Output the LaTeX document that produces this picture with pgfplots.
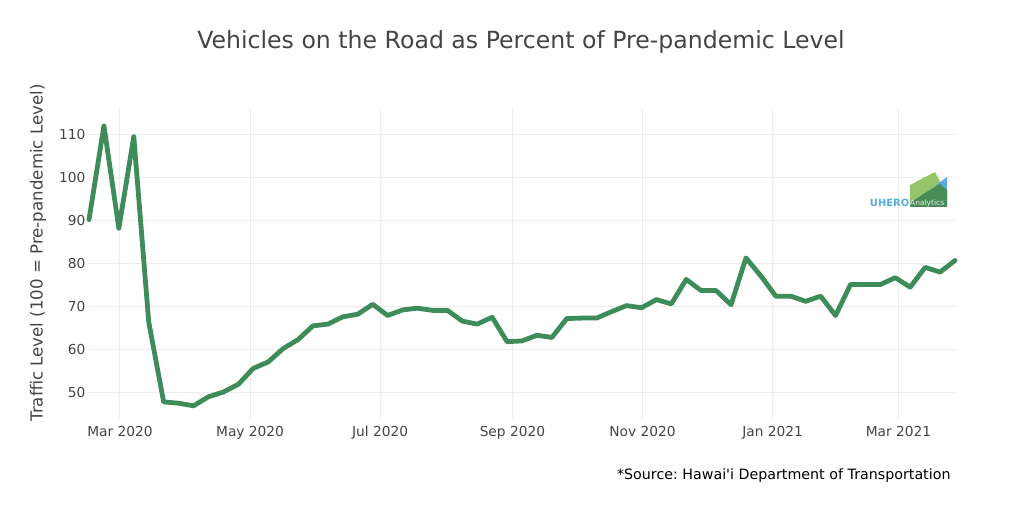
\documentclass[border=0pt]{standalone}
\usepackage{pgfplots}
\usepackage{pgfplotstable}
\pgfplotsset{compat=1.18}
\usepackage{fontspec}
\setmainfont{DejaVu Sans}
\newfontfamily\srcfont{DejaVu Sans}
\frenchspacing
\definecolor{linegreen}{RGB}{61,140,90}
\definecolor{txt}{RGB}{68,68,68}
\definecolor{gridc}{RGB}{236,236,236}
\definecolor{lgreen}{RGB}{150,196,104}
\definecolor{dgreen}{RGB}{72,140,88}
\definecolor{lblue}{RGB}{86,172,222}
\pgfplotstableread{
val
90.1
111.9
88.1
109.4
66.3
47.7
47.4
46.8
48.9
50.0
51.8
55.5
57.0
60.1
62.2
65.4
65.8
67.5
68.1
70.4
67.8
69.1
69.5
69.0
69.0
66.5
65.8
67.4
61.7
61.9
63.2
62.7
67.1
67.2
67.2
68.7
70.1
69.6
71.5
70.5
76.2
73.6
73.6
70.3
81.2
77.0
72.3
72.3
71.1
72.3
67.8
75.0
75.0
75.0
76.6
74.4
79.0
77.9
80.6
}\traffic
\begin{document}
\begin{tikzpicture}[x=1bp,y=1bp]
\path[use as bounding box] (0,0) rectangle (1034,516);
\begin{axis}[
  at={(89bp,96bp)}, anchor=south west,
  scale only axis, width=866bp, height=313bp,
  xmin=0, xmax=58, ymin=43.5, ymax=116.3,
  axis line style={draw=none},
  major tick length=0pt,
  grid=major, grid style={color=gridc, line width=0.9bp},
  xtick={2.071,10.786,19.5,28.357,37.071,45.786,54.214},
  xticklabels={Mar 2020,May 2020,Jul 2020,Sep 2020,Nov 2020,Jan 2021,Mar 2021},
  ytick={50,60,70,80,90,100,110},
  ticklabel style={font=\fontsize{13.8}{16}\selectfont, text=txt},
  /pgf/number format/assume math mode=true,
  xticklabel style={yshift=-3bp},
  clip=false,
]
\addplot[linegreen, line width=4.8bp, line join=round, line cap=round] table[x expr=\coordindex, y=val] {\traffic};
\end{axis}
% title
\node[text=txt, font=\fontsize{23.7}{28}\selectfont] at (521,474) {Vehicles on the Road as Percent of Pre-pandemic Level};
% y label
\node[text=txt, rotate=90, font=\fontsize{16.7}{20}\selectfont] at (38,263) {Traffic Level (100 = Pre-pandemic Level)};
% source
\node[anchor=east, text=black, font=\srcfont\fontsize{14.3}{17}\selectfont] at (954,40) {*Source: Hawai'i Department of Transportation};
% logo
\fill[lgreen] (910,309) -- (910,331) -- (935,344) -- (947,321) -- (947,309) -- cycle;
\fill[lblue] (935,330) -- (947,339) -- (947,321) -- cycle;
\fill[dgreen] (910,309) -- (910,313) -- (925,323) -- (940,332) -- (947,326) -- (947,309) -- cycle;
\node[anchor=east, inner sep=0pt, text=lblue, font=\bfseries\fontsize{10}{12}\selectfont] at (909.5,313) {UHERO};
\node[anchor=west, inner sep=0pt, text=white!85!gray, font=\fontsize{7.5}{9}\selectfont] at (910,313) {Analytics};
\end{tikzpicture}
\end{document}
